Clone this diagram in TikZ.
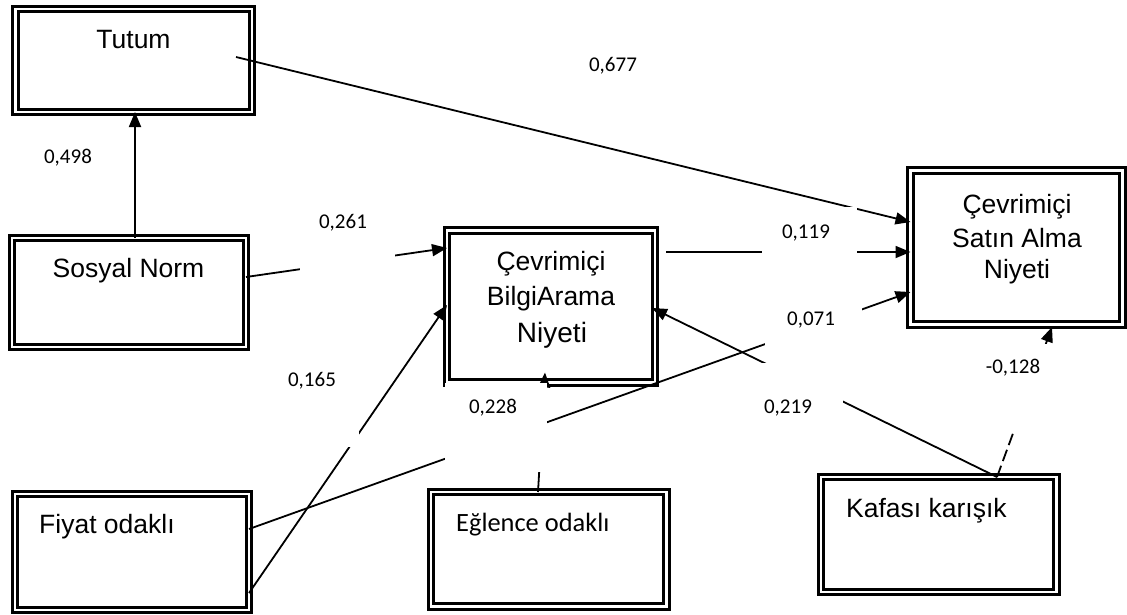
\documentclass[tikz,border=0pt]{standalone}
\usepackage{fontspec}
\setmainfont{Liberation Sans}
\newfontfamily\carl{Carlito}
\usetikzlibrary{arrows.meta,calc}

\begin{document}
\begin{tikzpicture}[x=1pt,y=-1pt,
  dbox/.style={rectangle, draw=black, line width=3pt, double=white,
    double distance=2.6pt, fill=white, inner sep=0pt, outer sep=0pt},
  conn/.style={line width=1.8pt, -{Triangle[length=15pt,width=12pt]}},
  boxtext/.style={font=\fontsize{26.5}{30}\selectfont, inner sep=0pt},
  lbl/.style={font=\carl\fontsize{21}{24}\selectfont, inner sep=0pt, anchor=base},
  mask/.style={fill=white}]
\useasboundingbox (0,0) rectangle (1127,614);

% construct boxes
\node[dbox, minimum width=236.5pt, minimum height=103pt] (tutum)   at (133.75,60.5) {};
\node[dbox, minimum width=234pt,   minimum height=109pt] (sosyal)  at (129,292.5) {};
\node[dbox, minimum width=208pt,   minimum height=152pt] (bilgi)   at (551,306.5) {};
\node[dbox, minimum width=212pt,   minimum height=154pt] (satin)   at (1016.5,247.5) {};
\node[dbox, minimum width=234pt,   minimum height=116pt] (fiyat)   at (132,552) {};
\node[dbox, minimum width=235.5pt, minimum height=114.5pt] (eglence) at (548.75,549.25) {};
\node[dbox, minimum width=235.5pt, minimum height=115pt] (kafasi)  at (938.75,534.5) {};

% paths
\draw[conn] ($(sosyal.north west)+(123,0)$) -- ($(tutum.south west)+(119.5,0)$);
\draw[conn] ($(tutum.north west)+(220.5,48)$) -- ($(satin.north west)+(0,51.5)$);
\draw[conn] ($(sosyal.north east)+(0,39)$) -- ($(bilgi.north west)+(0,17.5)$);
\draw[conn] ($(bilgi.north east)+(11,21.5)$) -- ($(satin.north west)+(0,81.5)$);
\draw[conn] ($(fiyat.north east)+(0,35)$) -- ($(satin.north west)+(0,121.5)$);
\draw[conn] ($(fiyat.south east)+(0,-17)$) -- ($(bilgi.north west)+(0,74.5)$);
\draw[conn] ($(eglence.north west)+(107,0)$) -- ($(bilgi.south west)+(98,-10)$);
\draw[conn] ($(kafasi.north west)+(176,0)$) -- ($(bilgi.north east)+(-3,77.5)$);
\draw[conn, dash pattern=on 12pt off 5pt] ($(kafasi.north west)+(176,0)$) -- ($(satin.south west)+(141.5,2.5)$);

% white label backgrounds
\fill[mask] (300,205) rectangle (395,290);
\fill[mask] (762,207) rectangle (857,275);
\fill[mask] (765,290) rectangle (862,352);
\fill[mask] (740,363) rectangle (843,440);
\fill[mask] (445,383) rectangle (547,472);
\fill[mask] (265,355) rectangle (359,447);
\fill[mask] (975,344) rectangle (1051,432);

% coefficients
\node[lbl] (c677) at (613,71)   {0,677};
\node[lbl] (c498) at (68,163)   {0,498};
\node[lbl] (c261) at (343,228)  {0,261};
\node[lbl] (c119) at (806,238)  {0,119};
\node[lbl] (c071) at (811,325)  {0,071};
\node[lbl] (c165) at (312,386)  {0,165};
\node[lbl] (c228) at (493,413)  {0,228};
\node[lbl] (c219) at (788,413)  {0,219};
\node[lbl] (c128) at (1013,373) {-0,128};

% box captions
\node[boxtext, anchor=base] (tutumT)  at (133.5,48) {Tutum};
\node[boxtext, anchor=base] (sosyalT) at (128.5,277) {Sosyal Norm};
\node[boxtext, anchor=base] (bilgiT1) at (551,270) {Çevrimiçi};
\node[boxtext, anchor=base] (bilgiT2) at (551,305) {BilgiArama};
\node[boxtext, anchor=base, font=\fontsize{28}{32}\selectfont] (bilgiT3) at (552,342) {Niyeti};
\node[boxtext, anchor=base] (satinT1) at (1017,213) {Çevrimiçi};
\node[boxtext, anchor=base] (satinT2) at (1017,247) {Satın Alma};
\node[boxtext, anchor=base] (satinT3) at (1017,278) {Niyeti};
\node[boxtext, anchor=base west] (fiyatT) at (39,533) {Fiyat odaklı};
\node[boxtext, anchor=base west, font=\carl\fontsize{26.4}{30}\selectfont] (eglenceT) at (456,531) {Eğlence odaklı};
\node[boxtext, anchor=base west] (kafasiT) at (846,517) {Kafası karışık};
\end{tikzpicture}
\end{document}
